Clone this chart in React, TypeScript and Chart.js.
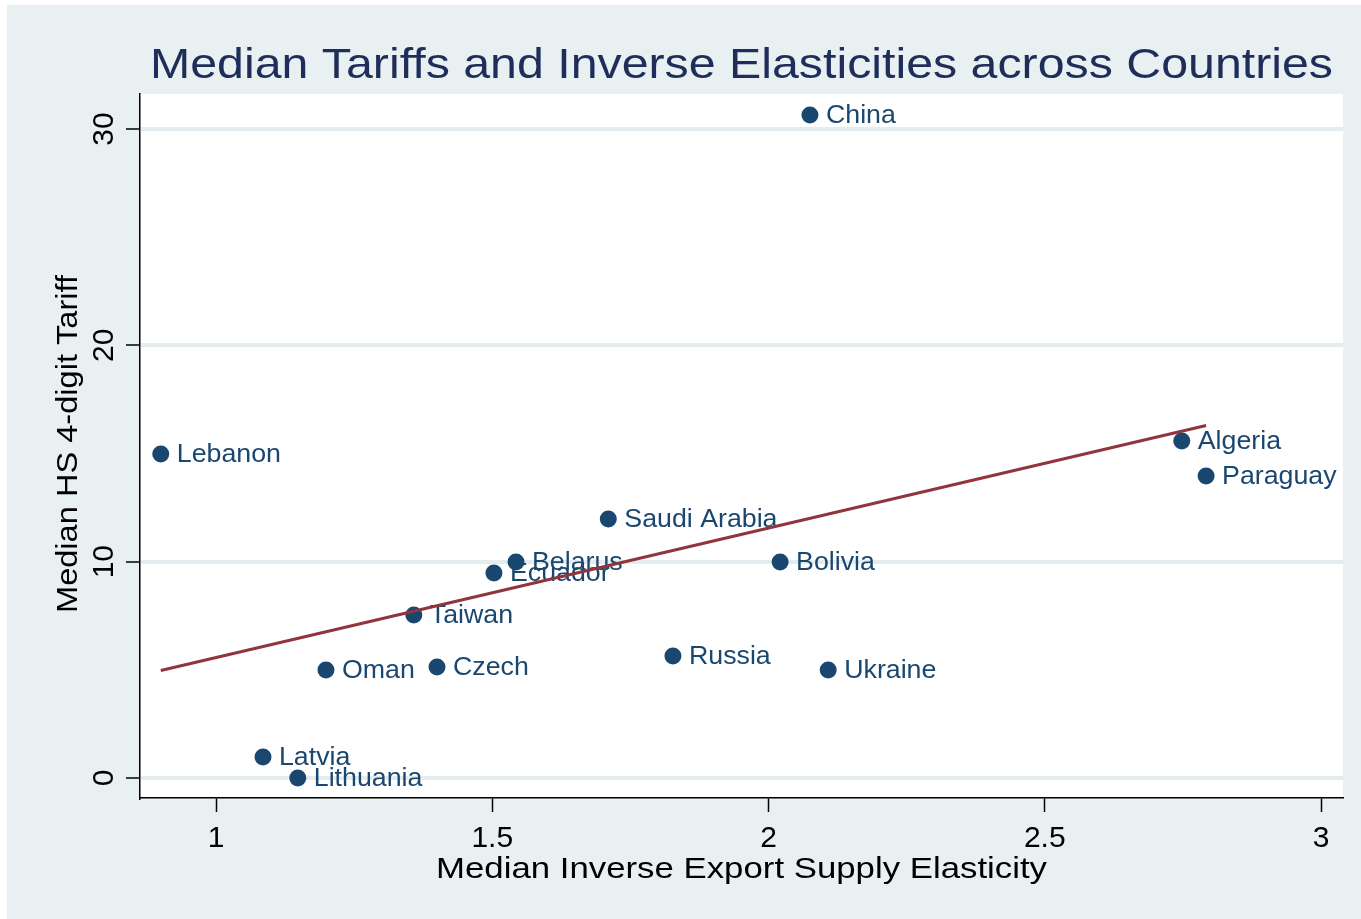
import React, { useEffect, useRef } from "react";
import { Chart, registerables } from "chart.js";

Chart.register(...registerables);

// ---- Data ----
const countries = [
  "China", "Lebanon", "Algeria", "Paraguay", "Saudi Arabia", "Belarus", "Ecuador",
  "Bolivia", "Taiwan", "Russia", "Ukraine", "Oman", "Czech", "Latvia", "Lithuania",
];
const elasticity = [
  2.075, 0.900, 2.748, 2.792, 1.710, 1.543, 1.503,
  2.021, 1.358, 1.827, 2.108, 1.199, 1.400, 1.085, 1.148,
];
const tariff = [
  30.65, 14.98, 15.58, 13.96, 11.97, 9.99, 9.48,
  9.99, 7.54, 5.64, 4.99, 4.99, 5.13, 0.97, 0.0,
];
const xTicks = [1, 1.5, 2, 2.5, 3];
const xTickLabels = ["1", "1.5", "2", "2.5", "3"];
const yTicks = [0, 10, 20, 30];
const yTickLabels = ["0", "10", "20", "30"];

const TITLE = "Median Tariffs and Inverse Elasticities across Countries";
const X_TITLE = "Median Inverse Export Supply Elasticity";
const Y_TITLE = "Median HS 4-digit Tariff";

// ---- Styles ----
const FONT = '"Liberation Sans", Arial, Helvetica, sans-serif';
const BG = "#e9f0f2";
const GRID = "#e4ecef";
const NAVY = "#1a476f";
const TITLE_COLOR = "#1e2d5a";
const MAROON = "#90353b";

// least-squares fit line across the observed x range
function fitLine(xs: number[], ys: number[]) {
  const n = xs.length;
  const mx = xs.reduce((a, b) => a + b, 0) / n;
  const my = ys.reduce((a, b) => a + b, 0) / n;
  let sxy = 0, sxx = 0;
  for (let i = 0; i < n; i++) {
    sxy += (xs[i] - mx) * (ys[i] - my);
    sxx += (xs[i] - mx) * (xs[i] - mx);
  }
  const b = sxy / sxx;
  const a = my - b * mx;
  const x0 = Math.min(...xs);
  const x1 = Math.max(...xs);
  return [{ x: x0, y: a + b * x0 }, { x: x1, y: a + b * x1 }];
}

type TOpts = {
  size: number; color: string; align?: CanvasTextAlign; baseline?: CanvasTextBaseline;
  rotate?: number; sx?: number; width?: number;
};
function drawText(ctx: CanvasRenderingContext2D, text: string, x: number, y: number, o: TOpts) {
  ctx.save();
  ctx.font = `${o.size}px ${FONT}`;
  ctx.fillStyle = o.color;
  ctx.textAlign = o.align || "left";
  ctx.textBaseline = o.baseline || "alphabetic";
  let sx = o.sx || 1;
  if (o.width) sx = o.width / ctx.measureText(text).width;
  ctx.translate(x, y);
  if (o.rotate) ctx.rotate(o.rotate);
  ctx.scale(sx, 1);
  ctx.fillText(text, 0, 0);
  ctx.restore();
}

const decorPlugin = {
  id: "decor",
  beforeDraw(chart: any) {
    const { ctx, width, height, chartArea } = chart;
    ctx.save();
    ctx.fillStyle = "#ffffff";
    ctx.fillRect(0, 0, width, height);
    ctx.fillStyle = BG;
    ctx.fillRect(7, 5, width - 7, height - 5);
    ctx.fillStyle = "#ffffff";
    ctx.fillRect(chartArea.left, chartArea.top, chartArea.right - chartArea.left, chartArea.bottom - chartArea.top);
    ctx.restore();
  },
  afterDatasetDraw(chart: any, args: any) {
    if (args.index !== 0) return;
    const ctx = chart.ctx;
    const meta = chart.getDatasetMeta(0);
    meta.data.forEach((pt: any, i: number) => {
      drawText(ctx, countries[i], pt.x + 16, pt.y + 1, {
        size: 25, color: NAVY, baseline: "middle", sx: 1.07,
      });
    });
  },
  afterDraw(chart: any) {
    const { ctx, chartArea, scales } = chart;
    const cx = (chartArea.left + chartArea.right) / 2;
    drawText(ctx, TITLE, cx, 78, { size: 42, color: TITLE_COLOR, align: "center", width: 1183 });
    drawText(ctx, X_TITLE, cx, 878, { size: 29, color: "#000", align: "center", width: 611 });
    drawText(ctx, Y_TITLE, 77, 444, { size: 29, color: "#000", align: "center", rotate: -Math.PI / 2, width: 338 });
    xTicks.forEach((v, i) => {
      drawText(ctx, xTickLabels[i], scales.x.getPixelForValue(v), 847, { size: 30, color: "#000", align: "center" });
    });
    yTicks.forEach((v, i) => {
      drawText(ctx, yTickLabels[i], 113, scales.y.getPixelForValue(v), { size: 30, color: "#000", align: "center", rotate: -Math.PI / 2 });
    });
  },
};

export default function App() {
  const ref = useRef<HTMLCanvasElement | null>(null);
  useEffect(() => {
    if (!ref.current) return;
    const points = elasticity.map((x, i) => ({ x, y: tariff[i] }));
    const chart = new Chart(ref.current, {
      type: "scatter",
      data: {
        datasets: [
          {
            type: "scatter",
            data: points,
            pointRadius: 8.5,
            pointHoverRadius: 8.5,
            pointBackgroundColor: NAVY,
            pointBorderWidth: 0,
            order: 2,
          } as any,
          {
            type: "line",
            data: fitLine(elasticity, tariff),
            borderColor: MAROON,
            borderWidth: 3,
            pointRadius: 0,
            fill: false,
            order: 1,
          } as any,
        ],
      },
      options: {
        responsive: false,
        animation: false,
        devicePixelRatio: 1,
        layout: { padding: { left: 0, right: 18, top: 94, bottom: 0 } },
        plugins: {
          legend: { display: false },
          tooltip: { enabled: false },
          title: { display: false },
        },
        scales: {
          x: {
            type: "linear",
            min: 0.8624,
            max: 3.0398,
            afterBuildTicks: (s: any) => { s.ticks = xTicks.map((v) => ({ value: v })); },
            afterFit: (s: any) => { s.height = 121; },
            ticks: { display: false },
            grid: { drawOnChartArea: false, drawTicks: true, tickLength: 14, tickColor: "#000", tickWidth: 1.5 },
            border: { display: true, color: "#000", width: 1.5 },
          },
          y: {
            type: "linear",
            min: -0.925,
            max: 31.62,
            afterBuildTicks: (s: any) => { s.ticks = yTicks.map((v) => ({ value: v })); },
            afterFit: (s: any) => { s.width = 140; },
            ticks: { display: false },
            grid: { color: GRID, lineWidth: 4, drawTicks: true, tickLength: 14, tickColor: "#000", tickWidth: 1.5 },
            border: { display: true, color: "#000", width: 1.5 },
          },
        },
      } as any,
      plugins: [decorPlugin],
    });
    return () => chart.destroy();
  }, []);
  return (
    <div style={{ position: "absolute", left: 0, top: 0, width: 1361, height: 919 }}>
      <canvas ref={ref} width={1361} height={919} style={{ display: "block" }} />
    </div>
  );
}
